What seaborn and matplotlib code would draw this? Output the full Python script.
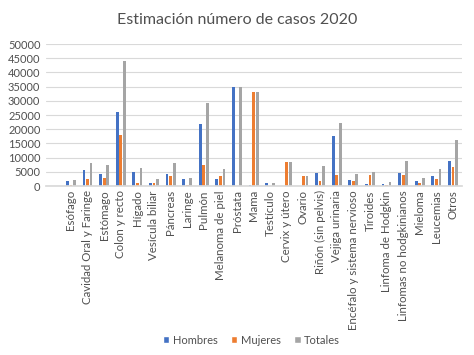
import matplotlib
matplotlib.use("Agg")
import matplotlib.pyplot as plt
import seaborn as sns
import pandas as pd
from matplotlib.patches import Patch

categories = ["Esófago", "Cavidad Oral y Faringe", "Estómago", "Colon y recto", "Hígado",
              "Vesícula biliar", "Páncreas", "Laringe", "Pulmón", "Melanoma de piel",
              "Próstata", "Mama", "Testículo", "Cervix y útero", "Ovario",
              "Riñón (sin pelvis)", "Vejiga urinaria", "Encéfalo y sistema nervioso",
              "Tiroides", "Linfoma de Hodgkin", "Linfomas no hodgkinianos", "Mieloma",
              "Leucemias", "Otros"]
hombres = [1650, 5650, 4350, 26000, 4800, 1200, 4100, 2500, 21750, 2350,
           35000, 200, 950, 0, 0, 4700, 17750, 2100, 800, 700, 4700, 1650, 3400, 8950]
mujeres = [300, 2350, 2800, 18100, 1200, 1200, 3650, 300, 7500, 3400,
           0, 33000, 0, 8500, 3400, 1900, 3900, 1750, 3900, 450, 4000, 950, 2350, 6800]
totales = [2100, 8250, 7300, 44100, 6500, 2600, 8100, 2900, 29400, 6100,
           35000, 33000, 950, 8500, 3400, 7050, 22100, 4100, 4950, 1300, 8950, 2800, 6000, 16100]
series = ["Hombres", "Mujeres", "Totales"]
colors = ["#4472C4", "#ED7D31", "#A5A5A5"]

df = pd.DataFrame({
    "cat": categories * 3,
    "serie": ["Hombres"] * 24 + ["Mujeres"] * 24 + ["Totales"] * 24,
    "val": hombres + mujeres + totales,
})

sns.set_theme(style="white")
plt.rcParams["font.family"] = ["Lato", "DejaVu Sans"]

fig = plt.figure(figsize=(4.74, 3.55), dpi=100)
ax = fig.add_axes([0.097, 0.476, 0.878, 0.4])
sns.barplot(data=df, x="cat", y="val", hue="serie", order=categories, hue_order=series,
            palette=colors, width=0.64, gap=0.22, ax=ax, legend=False, saturation=1,
            linewidth=0)

ax.set_xlim(-1.5, 23.55)
ax.set_ylim(0, 50000)
ax.set_yticks(range(0, 50001, 5000))
ax.yaxis.grid(True, color="#D9D9D9", linewidth=0.8)
ax.set_axisbelow(True)
for s in ["top", "right", "left"]:
    ax.spines[s].set_visible(False)
ax.spines["bottom"].set_color("#D9D9D9")
ax.tick_params(axis="y", labelsize=8, colors="#505050", length=0, pad=4)
ax.tick_params(axis="x", labelsize=8.3, colors="#505050", length=0, pad=3)
ax.set_xticks(range(len(categories)))
ax.set_xticklabels(categories, rotation=90)
ax.set_xlabel("")
ax.set_ylabel("")

fig.text(0.5, 0.945, "Estimación número de casos 2020", ha="center", va="center",
         fontsize=11.5, color="#505050")

handles = [Patch(facecolor=c, label=s) for c, s in zip(colors, series)]
fig.legend(handles=handles, loc="center", bbox_to_anchor=(0.53, 0.042), ncol=3,
           frameon=False, fontsize=8, handlelength=0.6, handleheight=0.6,
           handletextpad=0.3, columnspacing=1.2, labelcolor="#505050")

fig.savefig("out.png", dpi=100)
